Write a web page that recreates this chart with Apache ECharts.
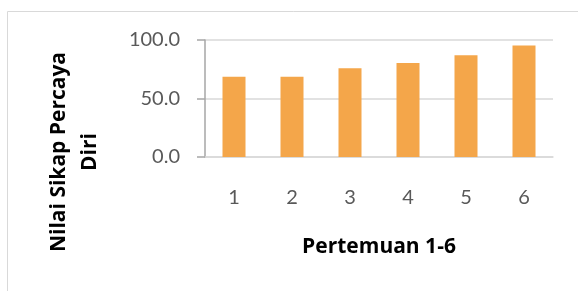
<!DOCTYPE html>
<html>
<head>
<meta charset="utf-8">
<script src="https://cdn.jsdelivr.net/npm/echarts@6/dist/echarts.min.js"></script>
<style>
  html, body { margin: 0; padding: 0; background: #fff; }
  #chart { width: 578px; height: 291px; }
</style>
</head>
<body>
<div id="chart"></div>
<script>
const categories = ['1', '2', '3', '4', '5', '6'];
const nilai = [68.5, 68.5, 75.9, 80.4, 86.9, 95.2];
const yTicks = [0, 50, 100];
const yTitle = 'Nilai Sikap Percaya\nDiri';
const xTitle = 'Pertemuan 1-6';

const chart = echarts.init(document.getElementById('chart'));
chart.setOption({
    animation: false,
    textStyle: { fontFamily: 'Lato' },
    graphic: [{
        type: 'rect',
        shape: { x: 7.5, y: 11.5, width: 620, height: 320 },
        style: { fill: 'none', stroke: '#d9d9d9', lineWidth: 1 }
    }, {
        // y axis title, two lines, rotated
        type: 'text',
        x: 75, y: 152,
        rotation: Math.PI / 2,
        style: {
            text: yTitle,
            fill: '#000',
            font: 'bold 21px "Open Sans"',
            lineHeight: 31,
            align: 'center',
            verticalAlign: 'middle'
        }
    }],
    grid: { left: 205, right: 25, top: 40, bottom: 134 },
    xAxis: {
        type: 'category',
        data: categories,
        name: xTitle,
        nameLocation: 'middle',
        nameGap: 80,
        nameTextStyle: { color: '#000', fontWeight: 'bold', fontSize: 21, fontFamily: 'Open Sans' },
        axisLine: { lineStyle: { color: '#d9d9d9', width: 1.5 } },
        axisTick: { show: false },
        axisLabel: { color: '#595959', fontSize: 20, margin: 31 }
    },
    yAxis: {
        type: 'value',
        min: yTicks[0],
        max: yTicks[yTicks.length - 1],
        interval: 50,
        axisLine: { show: true, lineStyle: { color: '#a6a6a6', width: 1.5 } },
        axisTick: { show: true, inside: false, length: 8, lineStyle: { color: '#a6a6a6', width: 1.5 } },
        splitLine: { lineStyle: { color: '#d9d9d9', width: 1.5 } },
        axisLabel: {
            color: '#595959', fontSize: 20, margin: 25,
            formatter: v => v.toFixed(1)
        }
    },
    series: [{
        type: 'bar',
        data: nilai,
        barWidth: 23,
        itemStyle: { color: '#f4a64a' }
    }]
});
</script>
</body>
</html>
